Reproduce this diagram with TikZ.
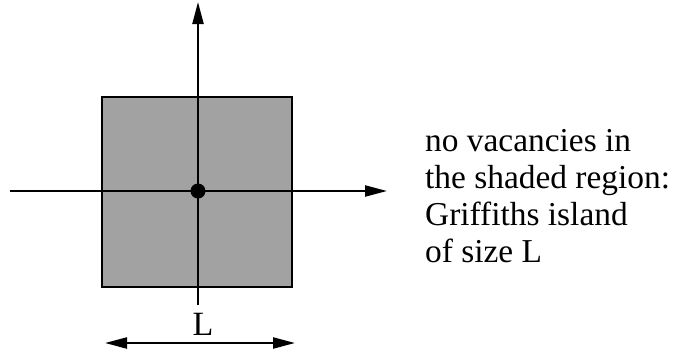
\documentclass[tikz,border=0pt]{standalone}
\usepackage{fontspec}
\setmainfont{Liberation Serif}
\usetikzlibrary{arrows.meta}
\definecolor{shade}{RGB}{162,162,162}
\tikzset{
  axis/.style={line width=2.2pt,-{Triangle[length=22pt,width=11pt]}},
  dimline/.style={line width=2.2pt,{Triangle[length=22pt,width=11pt]}-{Triangle[length=22pt,width=11pt]}},
  label/.style={font=\fontsize{33.4}{37}\selectfont,inner sep=0pt,anchor=base west},
}
\begin{document}
\begin{tikzpicture}[x=1pt,y=-1pt]
\useasboundingbox (0,0) rectangle (675,354);
\node[draw,line width=2pt,fill=shade,minimum width=190pt,minimum height=190pt,inner sep=0pt] (island) at (197,192) {};
\coordinate (hl) at (10,191);
\coordinate (hr) at (387,191);
\coordinate (vb) at (198,305);
\coordinate (vt) at (198,2);
\draw[axis] (hl) -- (hr);
\draw[axis] (vb) -- (vt);
\node[circle,fill=black,inner sep=0pt,minimum size=15pt] (dot) at (198,191) {};
\coordinate (dl) at (105,343);
\coordinate (dr) at (295,343);
\draw[dimline] (dl) -- (dr);
\node[font=\fontsize{34}{37}\selectfont,inner sep=0pt,anchor=base] (L) at (203,335) {L};
\node[label] (t1) at (425,151) {no vacancies in};
\node[label] (t2) at (425,188) {the shaded region:};
\node[label] (t3) at (425,225) {Griffiths island};
\node[label] (t4) at (425,262) {of size L};
\end{tikzpicture}
\end{document}
